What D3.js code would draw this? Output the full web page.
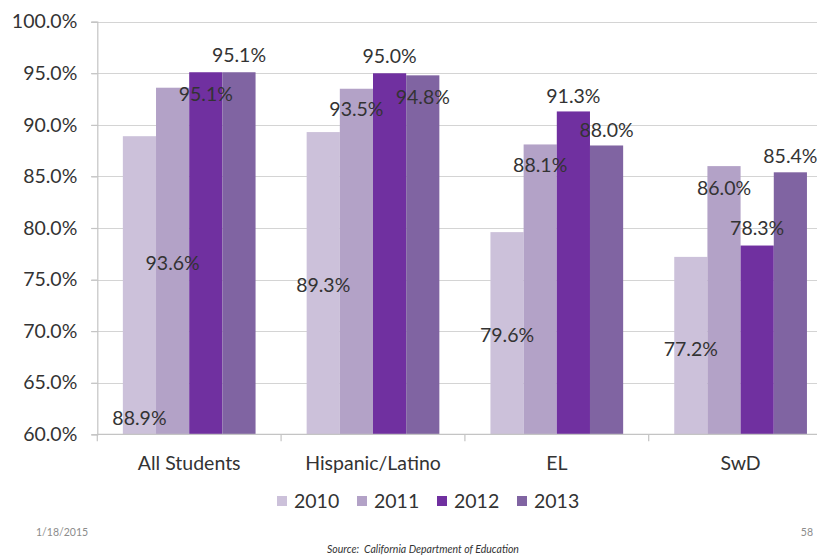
<!DOCTYPE html>
<html>
<head>
<meta charset="utf-8">
<script src="https://cdn.jsdelivr.net/npm/d3@7"></script>
<style>
  html, body { margin: 0; padding: 0; background: #fff; }
  svg { display: block; }
  text { font-family: Lato, "Open Sans", sans-serif; }
</style>
</head>
<body>
<svg id="chart" width="817" height="556"></svg>
<script>
// ---- data ----
const categories = ["All Students", "Hispanic/Latino", "EL", "SwD"];
const seriesNames = ["2010", "2011", "2012", "2013"];
const values2010 = [88.9, 89.3, 79.6, 77.2];
const values2011 = [93.6, 93.5, 88.1, 86.0];
const values2012 = [95.1, 95.0, 91.3, 78.3];
const values2013 = [95.1, 94.8, 88.0, 85.4];
// where each data label sits on the value axis (labels are scattered in the original)
const labelAt2010 = [61.6, 74.5, 69.6, 68.3];
const labelAt2011 = [76.6, 91.5, 86.05, 83.9];
const labelAt2012 = [93.0, 96.7, 92.8, 80.0];
const labelAt2013 = [96.8, 92.7, 89.5, 87.0];
const yTicks = [60, 65, 70, 75, 80, 85, 90, 95, 100];
const colors = ["#ccc1da", "#b3a2c7", "#7030a0", "#8064a2"];

const allValues = [values2010, values2011, values2012, values2013];
const allLabelAt = [labelAt2010, labelAt2011, labelAt2012, labelAt2013];

const svg = d3.select("#chart");

const x0 = d3.scaleBand().domain(categories).range([97.3, 97.3 + 4 * 183.8]).padding(0);
const x1 = d3.scaleBand().domain(seriesNames).range([0, x0.bandwidth()]).paddingInner(0).paddingOuter(0.77);
const y = d3.scaleLinear().domain([60, 100]).range([434.3, 21.7]);

// gridlines
svg.append("g").selectAll("line").data(yTicks.slice(1)).join("line")
  .attr("x1", 91).attr("x2", 817)
  .attr("y1", d => Math.round(y(d)) + 0.5).attr("y2", d => Math.round(y(d)) + 0.5)
  .attr("stroke", "#d4d4d4").attr("stroke-width", 1.2);

// bars
const rows = categories.map((c, i) => ({ cat: c, vals: seriesNames.map((s, j) => ({ s, j, v: allValues[j][i], at: allLabelAt[j][i] })) }));
const groups = svg.append("g").selectAll("g").data(rows).join("g")
  .attr("transform", d => `translate(${x0(d.cat)},0)`);
groups.selectAll("rect").data(d => d.vals).join("rect")
  .attr("x", d => x1(d.s))
  .attr("width", x1.bandwidth())
  .attr("y", d => y(d.v))
  .attr("height", d => y(60) - y(d.v))
  .attr("fill", d => colors[d.j]);

// axes
const yAxis = d3.axisLeft(y).tickValues(yTicks).tickSize(6).tickPadding(14)
  .tickFormat(d => d.toFixed(1) + "%");
const gy = svg.append("g").attr("transform", "translate(97.3,0)").call(yAxis);
gy.select(".domain").attr("stroke", "#c4c4c4").attr("stroke-width", 1.2);
gy.selectAll(".tick line").attr("stroke", "#c4c4c4").attr("stroke-width", 1.2);
gy.selectAll(".tick text").attr("font-size", "19.5px").attr("fill", "#333").attr("font-family", "Lato, sans-serif");

const boundaries = categories.map(c => x0(c)).concat([x0.range()[1]]);
const gx = svg.append("g");
gx.append("line").attr("x1", 97.3).attr("x2", 817).attr("y1", y(60)).attr("y2", y(60))
  .attr("stroke", "#c4c4c4").attr("stroke-width", 1.2);
gx.selectAll("line.tk").data(boundaries).join("line").attr("class", "tk")
  .attr("x1", d => d).attr("x2", d => d).attr("y1", y(60)).attr("y2", y(60) + 7)
  .attr("stroke", "#c4c4c4").attr("stroke-width", 1.2);
gx.selectAll("text").data(categories).join("text")
  .attr("x", d => x0(d) + x0.bandwidth() / 2)
  .attr("y", 463).attr("dy", "0.35em")
  .attr("text-anchor", "middle").attr("font-size", "19.5px").attr("fill", "#333")
  .text(d => d);

// data labels
groups.selectAll("text").data(d => d.vals).join("text")
  .attr("x", d => x1(d.s) + x1.bandwidth() / 2)
  .attr("y", d => y(d.at)).attr("dy", "0.35em")
  .attr("text-anchor", "middle").attr("font-size", "19.5px").attr("fill", "#333")
  .text(d => d.v.toFixed(1) + "%");

// legend
const legend = svg.append("g").selectAll("g").data(seriesNames).join("g")
  .attr("transform", (d, i) => `translate(${277 + i * 80},501)`);
legend.append("rect").attr("x", 0).attr("y", -5).attr("width", 10).attr("height", 10)
  .attr("fill", (d, i) => colors[i]);
legend.append("text").attr("x", 17).attr("y", 0).attr("dy", "0.35em")
  .attr("font-size", "19.5px").attr("fill", "#333").text(d => d);

// footer
svg.append("text").attr("x", 36).attr("y", 532).attr("dy", "0.35em")
  .attr("font-size", "10.5px").attr("fill", "#8c8c8c").text("1/18/2015");
svg.append("text").attr("x", 813).attr("y", 532).attr("dy", "0.35em").attr("text-anchor", "end")
  .attr("font-size", "10.5px").attr("fill", "#8c8c8c").text("58");
svg.append("text").attr("x", 423).attr("y", 549).attr("dy", "0.35em").attr("text-anchor", "middle")
  .attr("font-size", "10.5px").attr("font-style", "italic").attr("fill", "#333")
  .attr("xml:space", "preserve").style("white-space", "pre")
  .text("Source:  California Department of Education");
</script>
</body>
</html>
